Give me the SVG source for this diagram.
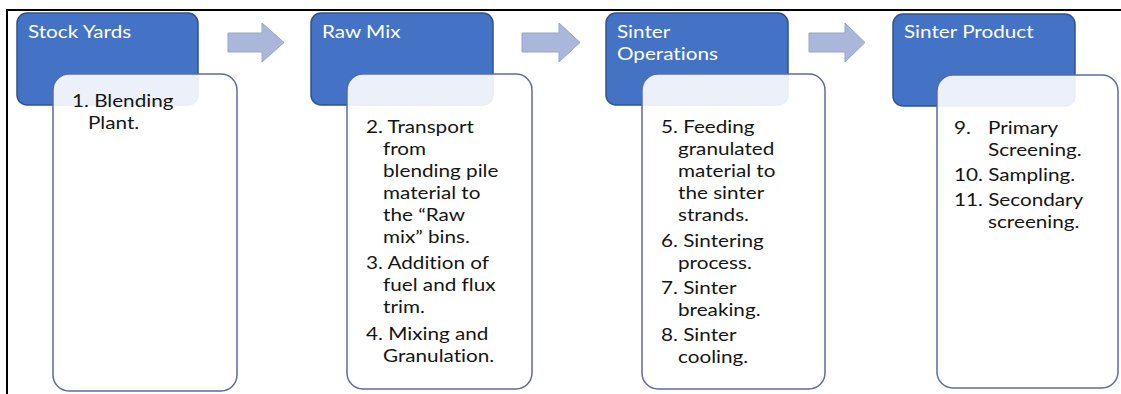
<svg xmlns="http://www.w3.org/2000/svg" width="1121" height="394" viewBox="0 0 1121 394">
<style>
.hdr{fill:#4472c4;stroke:#2f528f;stroke-width:1.5}
.det{fill:#ffffff;fill-opacity:0.9;stroke:#5a6aa6;stroke-width:1.5}
.ht,.bt{font-family:Lato,"Open Sans",sans-serif;font-size:18px;font-variant-ligatures:none;font-feature-settings:"liga" 0,"clig" 0}
.ht{fill:#ffffff}
.bt{fill:#151515}
.arr{fill:#aab7db;stroke:#95a5d0;stroke-width:1}
</style>
<rect width="1121" height="394" fill="#ffffff"/>
<path d="M7,394 V10 H1121" fill="none" stroke="#000000" stroke-width="2"/>
<g id="connectors">
<path class="arr" d="M228,33 H262 V23 L284,42.5 L262,62 V52 H228 Z"/>
<path class="arr" d="M522,33 H559 V23 L580,42.5 L559,62 V52 H522 Z"/>
<path class="arr" d="M809,33 H845 V23 L865,42.5 L845,62 V52 H809 Z"/>
</g>
<g id="stock-yards">
<rect class="hdr" x="17" y="13" width="181" height="92" rx="10"/>
<g transform="translate(28 0) scale(1.15 1)"><text class="ht" x="0" y="38">Stock Yards</text></g>
<rect class="det" x="53" y="74" width="184" height="317" rx="16"/>
<g transform="translate(72 0) scale(1.15 1)">
<text class="bt" x="0" y="107">1. Blending</text>
<text class="bt" x="13.9" y="129">Plant.</text>
</g>
</g>
<g id="raw-mix">
<rect class="hdr" x="311" y="13" width="182" height="92" rx="10"/>
<g transform="translate(322 0) scale(1.15 1)"><text class="ht" x="0" y="38">Raw Mix</text></g>
<rect class="det" x="347" y="74" width="185" height="315" rx="16"/>
<g transform="translate(366 0) scale(1.15 1)">
<text class="bt" x="0" y="133">2. Transport</text>
<text class="bt" x="14.8" y="155">from</text>
<text class="bt" x="14.8" y="177">blending pile</text>
<text class="bt" x="14.8" y="199">material to</text>
<text class="bt" x="14.8" y="221">the “Raw</text>
<text class="bt" x="14.8" y="243">mix” bins.</text>
<text class="bt" x="0" y="269">3. Addition of</text>
<text class="bt" x="14.8" y="291">fuel and flux</text>
<text class="bt" x="14.8" y="313">trim.</text>
<text class="bt" x="0" y="340">4. Mixing and</text>
<text class="bt" x="14.8" y="362">Granulation.</text>
</g>
</g>
<g id="sinter-operations">
<rect class="hdr" x="606" y="13" width="182" height="92" rx="10"/>
<g transform="translate(617 0) scale(1.15 1)">
<text class="ht" x="0" y="38">Sinter</text>
<text class="ht" x="0" y="60">Operations</text>
</g>
<rect class="det" x="642" y="74" width="183" height="315" rx="16"/>
<g transform="translate(661 0) scale(1.15 1)">
<text class="bt" x="0" y="133">5. Feeding</text>
<text class="bt" x="14.8" y="155">granulated</text>
<text class="bt" x="14.8" y="177">material to</text>
<text class="bt" x="14.8" y="199">the sinter</text>
<text class="bt" x="14.8" y="221">strands.</text>
<text class="bt" x="0" y="247">6. Sintering</text>
<text class="bt" x="14.8" y="269">process.</text>
<text class="bt" x="0" y="294">7. Sinter</text>
<text class="bt" x="14.8" y="316">breaking.</text>
<text class="bt" x="0" y="341">8. Sinter</text>
<text class="bt" x="14.8" y="363">cooling.</text>
</g>
</g>
<g id="sinter-product">
<rect class="hdr" x="893" y="14" width="182" height="92" rx="10"/>
<g transform="translate(904 0) scale(1.15 1)"><text class="ht" x="0" y="38">Sinter Product</text></g>
<rect class="det" x="937" y="75" width="181" height="313" rx="16"/>
<g transform="translate(954 0) scale(1.15 1)">
<text class="bt" x="0" y="134">9.<tspan x="29.6">Primary</tspan></text>
<text class="bt" x="29.6" y="156">Screening.</text>
<text class="bt" x="0" y="181">10. Sampling.</text>
<text class="bt" x="0" y="206">11. Secondary</text>
<text class="bt" x="29.6" y="228">screening.</text>
</g>
</g>
</svg>
